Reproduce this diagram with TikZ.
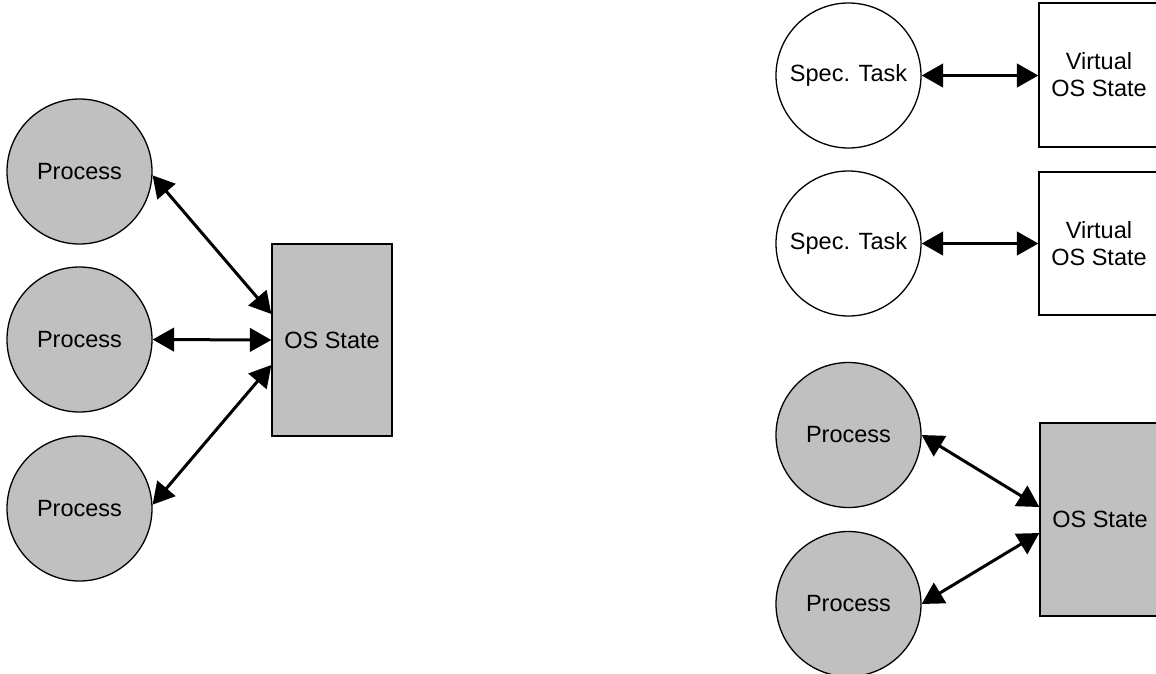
\documentclass[tikz,border=0pt]{standalone}
\usepackage{fontspec}
\setmainfont{Liberation Sans}
\usetikzlibrary{arrows.meta,calc}
\begin{document}
\begin{tikzpicture}[x=1pt,y=-1pt,
  proc/.style={circle,draw,line width=1.3pt,fill=procgray,minimum size=145pt,inner sep=0pt,font=\fontsize{23.5}{27}\selectfont},
  spec/.style={circle,draw,line width=1.3pt,fill=white,minimum size=145pt,inner sep=0pt,font=\fontsize{23.5}{27}\selectfont},
  osbox/.style={rectangle,draw,line width=1.3pt,fill=procgray,inner sep=0pt,font=\fontsize{23.5}{27}\selectfont},
  vbox/.style={rectangle,draw,line width=1.3pt,fill=white,inner sep=0pt,align=center,font=\fontsize{23.5}{27}\selectfont},
  link/.style={line width=3pt,{Triangle[length=21.5pt,width=23.5pt]}-{Triangle[length=21.5pt,width=23.5pt]}}
]
\definecolor{procgray}{RGB}{192,192,192}
\useasboundingbox (0,0) rectangle (1156,673);
\clip (0,0) rectangle (1156,673);
% left group
\node[proc] (p1) at (79.5,171.5) {Process};
\node[proc] (p2) at (79.5,339.5) {Process};
\node[proc] (p3) at (79.5,508.5) {Process};
\node[osbox,minimum width=120pt,minimum height=192pt] (os) at (332,340) {OS State};
\draw[link] (p1.-3) -- ($(os.west)+(0,-26)$);
\draw[link] (p2.east) -- (os.west);
\draw[link] (p3.3) -- ($(os.west)+(0,25)$);
% right group
\node[spec] (s1) at (848.5,75.5) {Spec. Task};
\node[spec] (s2) at (848.5,243.5) {Spec. Task};
\node[vbox,minimum width=120pt,minimum height=144pt] (v1) at (1099,75) {Virtual\\OS State};
\node[vbox,minimum width=120pt,minimum height=143pt] (v2) at (1099,243.5) {Virtual\\OS State};
\draw[link] (s1.east) -- (s1.east -| v1.west);
\draw[link] (s2.east) -- (s2.east -| v2.west);
\node[proc] (q1) at (848.5,435) {Process};
\node[proc] (q2) at (848.5,604) {Process};
\node[osbox,minimum width=120pt,minimum height=193pt] (os2) at (1100,519.5) {OS State};
\draw[link] (q1.east) -- ($(os2.west)+(0,-12.5)$);
\draw[link] (q2.east) -- ($(os2.west)+(0,13.5)$);
\end{tikzpicture}
\end{document}
